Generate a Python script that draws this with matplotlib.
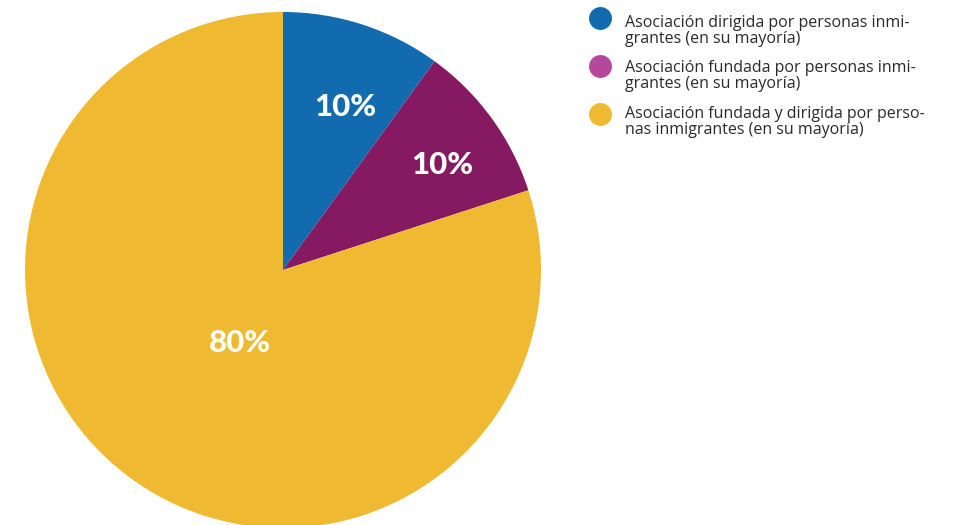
import matplotlib
matplotlib.use("Agg")
import matplotlib.pyplot as plt
import numpy as np

categories = [
    "Asociación dirigida por personas inmi-\ngrantes (en su mayoría)",
    "Asociación fundada por personas inmi-\ngrantes (en su mayoría)",
    "Asociación fundada y dirigida por perso-\nnas inmigrantes (en su mayoría)",
]
values = [10, 10, 80]
slice_colors = ["#136baf", "#861a62", "#efb932"]
legend_colors = ["#136baf", "#b5489a", "#efb932"]

# label placement (fraction of radius, angular offset in degrees)
label_dist = [0.675, 0.74, 0.33]
label_offset = [-3.0, -2.5, 5.5]

W, H = 959, 525
fig = plt.figure(figsize=(W / 100, H / 100), dpi=100)
cx, cy, r = 283, 270, 258
ax = fig.add_axes([(cx - r) / W, (H - cy - r) / H, 2 * r / W, 2 * r / H])
wedges, texts, autotexts = ax.pie(
    values, colors=slice_colors, startangle=90, counterclock=False,
    autopct="%d%%", pctdistance=0.7, radius=1,
    wedgeprops=dict(linewidth=0),
    textprops=dict(color="white", fontsize=22.5, fontweight="black", family="Lato"),
)
for w, t, d, o in zip(wedges, autotexts, label_dist, label_offset):
    ang = np.deg2rad((w.theta1 + w.theta2) / 2 + o)
    t.set_position((d * np.cos(ang), d * np.sin(ang)))
ax.set_xlim(-1, 1)
ax.set_ylim(-1, 1)
ax.axis("off")

# legend drawn manually to match the reference layout
marker_y = [18, 66, 114]
baseline_y = [27, 72, 118]
line_gap = 16
for i, (lab, col) in enumerate(zip(categories, legend_colors)):
    fig.add_artist(plt.Line2D([600 / W], [1 - marker_y[i] / H], marker="o",
                              markersize=16.5, markerfacecolor=col,
                              markeredgewidth=0, linestyle="none",
                              transform=fig.transFigure))
    for j, line in enumerate(lab.split("\n")):
        fig.text(625 / W, 1 - (baseline_y[i] + j * line_gap) / H, line,
                 family="Open Sans", fontsize=11.5, color="#2a2a2a",
                 va="baseline", ha="left")

fig.savefig("out.png", dpi=100)
